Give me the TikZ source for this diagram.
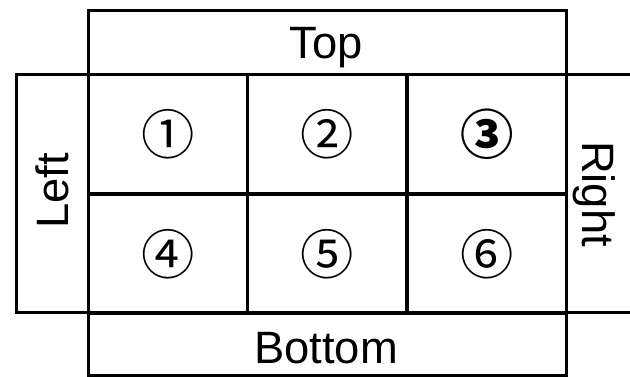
\documentclass[tikz,border=0pt]{standalone}
\usepackage{fontspec}
\setmainfont{Liberation Sans}
\newfontfamily\circfont{Noto Sans CJK JP}
\begin{document}
\begin{tikzpicture}[x=0.75pt,y=-0.75pt,
  box/.style={draw,line width=2.5pt,rectangle,inner sep=0pt},
  lbl/.style={inner sep=0pt,anchor=base,font=\fontsize{34}{40}\selectfont},
  cell/.style={box,anchor=north west,minimum width=119.25pt,minimum height=89pt,font=\circfont\fontsize{40}{46}\selectfont}]
\useasboundingbox (0,0) rectangle (630,376);
\fill[white] (0,0) rectangle (630,376);
% bands
\node[box,anchor=north west,minimum width=358.5pt,minimum height=48pt] (topbox) at (87,9) {};
\node[box,anchor=north west,minimum width=358.5pt,minimum height=47.5pt] (bottombox) at (87,311) {};
\node[box,anchor=north west,minimum width=54pt,minimum height=178.5pt] (leftbox) at (15,73) {};
\node[box,anchor=north west,minimum width=60pt,minimum height=178.5pt] (rightbox) at (565,73) {};
% labels
\node[lbl] (top) at (326,58) {Top};
\node[lbl] (bottom) at (326,363) {Bottom};
\node[lbl,rotate=90] (left) at (68,191) {Left};
\node[lbl,rotate=-90] (right) at (582,194) {Right};
% cells
\node[cell] (c1) at (87,73) {①};
\node[cell] (c2) at (246,73) {②};
\node[cell] (c3) at (406,73) {\bfseries ③};
\node[cell] (c4) at (87,193) {④};
\node[cell] (c5) at (246,193) {⑤};
\node[cell] (c6) at (406,193) {⑥};
\end{tikzpicture}
\end{document}
